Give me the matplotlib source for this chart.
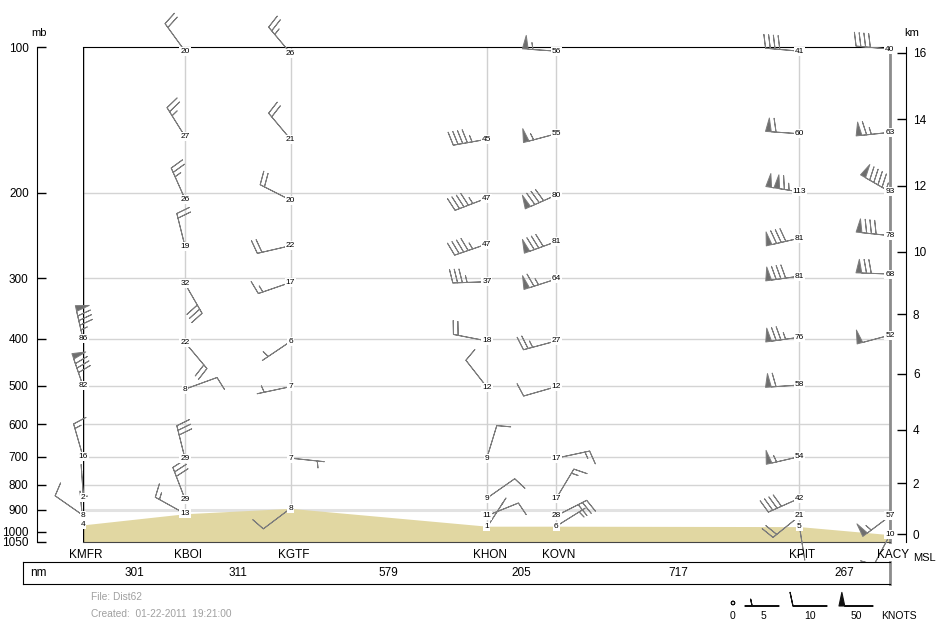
import numpy as np
import matplotlib
matplotlib.use("Agg")
import matplotlib.pyplot as plt
from matplotlib.ticker import NullLocator
from matplotlib.transforms import blended_transform_factory

plt.rcParams["font.family"] = ["Liberation Sans", "DejaVu Sans"]

stations = ["KMFR", "KBOI", "KGTF", "KHON", "KOVN", "KPIT", "KACY"]
legs_nm = [301, 311, 579, 205, 717, 267]
surface_mb = [968, 918, 895, 974, 974, 976, 1014]

# (pressure mb, speed kt, direction deg) for each station, top to bottom
kmfr = [(400, 86, 347), (500, 82, 341), (700, 16, 344), (850, 2, 356),
        (925, 8, 305), (968, 4, 355)]
kboi = [(102, 20, 324), (153, 27, 328), (206, 26, 336), (258, 19, 346),
        (308, 32, 150), (407, 22, 140), (508, 8, 70), (707, 29, 346),
        (857, 29, 339), (918, 13, 299)]
kgtf = [(103, 26, 320), (155, 21, 320), (207, 20, 297), (257, 22, 257),
        (306, 17, 251), (405, 6, 236), (502, 7, 258), (705, 7, 96),
        (895, 8, 233)]
khon = [(155, 45, 260), (205, 47, 249), (255, 47, 251), (305, 37, 268),
        (404, 18, 281), (503, 12, 322), (705, 9, 17), (853, 9, 55),
        (927, 11, 68), (974, 1, 33)]
kovn = [(102, 56, 274), (151, 55, 255), (202, 80, 246), (252, 81, 250),
        (301, 64, 252), (404, 27, 255), (502, 12, 254), (705, 17, 78),
        (853, 17, 31), (927, 28, 63), (974, 6, 58)]
kpit = [(102, 41, 275), (151, 60, 274), (199, 113, 279), (248, 81, 257),
        (297, 81, 262), (397, 76, 262), (498, 58, 266), (700, 54, 257),
        (853, 42, 246), (928, 21, 231), (976, 5, 171)]
kacy = [(101, 40, 275), (150, 63, 264), (199, 93, 300), (245, 78, 276),
        (294, 68, 272), (393, 52, 255), (928, 57, 233), (1014, 10, 208)]
station_obs = [kmfr, kboi, kgtf, khon, kovn, kpit, kacy]

mb_ticks = [100, 200, 300, 400, 500, 600, 700, 800, 900, 1000, 1050]
grid_mb = [200, 300, 400, 500, 600, 700, 800, 900]
km_ticks = [0, 2, 4, 6, 8, 10, 12, 14, 16]
legend_kt = [0, 5, 10, 50]


def std_pressure(h_km):
    # standard atmosphere, used to place the km scale
    if h_km <= 11:
        return 1013.25 * (1 - 0.0065 * h_km * 1000 / 288.15) ** 5.25588
    return 226.32 * np.exp(-(h_km - 11) * 1000 / 6341.62)


W, H = 945, 629
fig = plt.figure(figsize=(W / 100, H / 100), dpi=100)
ax = fig.add_axes([83 / W, 1 - 542 / H, 807 / W, 495 / H])
ax.set_yscale("log")
ax.set_ylim(1050, 100)
station_x = np.concatenate([[0], np.cumsum(legs_nm)])
ax.set_xlim(0, station_x[-1])

for p in grid_mb:
    if p == 900:
        ax.axhline(p, color="#e2e2e2", lw=2.2, zorder=1)
    else:
        ax.axhline(p, color="#d4d4d4", lw=1, zorder=1)
ax.vlines(station_x, 100, surface_mb, color="#d0d0d0", lw=1, zorder=1)
ax.fill_between(station_x, surface_mb, 1050, color="#e1d7a2", lw=0, zorder=2)

barb_col = "#7c7c7c"
flag_col = "#6e6e6e"
barb_sizes = dict(spacing=0.14, height=0.4, width=0.17, emptybarb=0.05)
for sx, obs in zip(station_x, station_obs):
    p = np.array([o[0] for o in obs], float)
    kt = np.array([o[1] for o in obs], float)
    d = np.radians([o[2] for o in obs])
    u = -kt * np.sin(d)
    v = -kt * np.cos(d)
    x = np.full(len(p), sx, float)
    calm = kt < 2.5
    if (~calm).any():
        ax.barbs(x[~calm], p[~calm], u[~calm], v[~calm], length=7.0,
                 pivot="tip", barbcolor=barb_col, flagcolor=flag_col,
                 linewidth=0.7, sizes=barb_sizes, zorder=3, clip_on=False)
    if calm.any():
        # light winds: bare staff only
        ax.barbs(x[calm], p[calm], u[calm], v[calm], length=7.0,
                 pivot="tip", barbcolor=barb_col, linewidth=0.7,
                 barb_increments=dict(half=0.5, full=1000, flag=10000),
                 sizes=dict(height=0, spacing=0.14, width=0.17),
                 zorder=3, clip_on=False)
    for pi, k in zip(p, kt):
        ax.text(sx, pi, str(int(k)), ha="center", va="center", fontsize=6,
                zorder=5, clip_on=False,
                bbox=dict(boxstyle="square,pad=0.12", fc="white", ec="none"))

# frame
ax.spines["top"].set_color("black")
ax.spines["bottom"].set_color("#444444")
ax.spines["right"].set_color("#8c8c8c")
ax.spines["right"].set_linewidth(2)
ax.spines["left"].set_position(("outward", 33.1))
ax.axvline(0, color="black", lw=1, zorder=2.6)
ax.set_xticks([])
ax.set_yticks(mb_ticks, labels=[str(t) for t in mb_ticks])
ax.yaxis.set_minor_locator(NullLocator())
ax.tick_params(axis="y", direction="in", length=6.5, width=1, pad=6,
               labelsize=8.5)

ax2 = ax.twinx()
ax2.set_yscale("log")
ax2.set_ylim(1050, 100)
ax2.set_yticks([std_pressure(h) for h in km_ticks],
               labels=[str(h) for h in km_ticks])
ax2.yaxis.set_minor_locator(NullLocator())
for s in ["left", "top", "bottom"]:
    ax2.spines[s].set_visible(False)
ax2.spines["right"].set_position(("outward", 11.5))
ax2.tick_params(axis="y", direction="in", length=6.5, width=1, pad=5,
                labelsize=8.5)

fig.text(39.5 / W, 1 - 33 / H, "mb", ha="center", va="center", fontsize=8)
fig.text(911.7 / W, 1 - 33 / H, "km", ha="center", va="center", fontsize=8)
fig.text(924 / W, 1 - 558 / H, "MSL", ha="center", va="center", fontsize=8)

trans_st = blended_transform_factory(ax.transData, fig.transFigure)
for sx, name in zip(station_x, stations):
    ax.annotate(name, xy=(sx, 1 - 555.5 / H), xycoords=trans_st,
                xytext=(2, 0), textcoords="offset points",
                ha="center", va="center", fontsize=8.5, annotation_clip=False)

# distance strip
ax_box = fig.add_axes([23 / W, 1 - 584 / H, 867 / W, 22 / H])
ax_box.set_xticks([])
ax_box.set_yticks([])
ax_box.spines["right"].set_color("#8c8c8c")
ax_box.spines["right"].set_linewidth(2)
trans_box = blended_transform_factory(ax.transData, ax_box.transAxes)
mids = (station_x[:-1] + station_x[1:]) / 2
for m, nm in zip(mids, legs_nm):
    ax_box.text(m, 0.5, str(nm), transform=trans_box, ha="center",
                va="center", fontsize=8.5)
ax_box.text(0.008, 0.5, "nm", transform=ax_box.transAxes, ha="left",
            va="center", fontsize=8.5)

fig.text(91 / W, 1 - 597.5 / H, "File: Dist62", color="#a0a0a0",
         fontsize=7.3, va="center")
fig.text(91 / W, 1 - 614 / H, "Created:  01-22-2011  19:21:00",
         color="#a0a0a0", fontsize=7.3, va="center")

# speed key
ax_leg = fig.add_axes([0, 0, 1, 1])
ax_leg.set_xlim(0, W)
ax_leg.set_ylim(H, 0)
ax_leg.axis("off")
key_text_x = [733, 763, 810, 856]
key_barb_x = [733, 779, 827, 873]
key_barb_y = [603, 606, 606, 606]
ax_leg.barbs(key_barb_x, key_barb_y, legend_kt, [0] * len(legend_kt),
             length=7.0, pivot="tip", barbcolor="#111111",
             flagcolor="#111111", linewidth=0.8, sizes=barb_sizes)
for tx, k in zip(key_text_x, legend_kt):
    ax_leg.text(tx, 616, str(k), ha="center", va="center", fontsize=7.5)
ax_leg.text(899, 616, "KNOTS", ha="center", va="center", fontsize=7.5)

fig.savefig("out.png", dpi=100)
